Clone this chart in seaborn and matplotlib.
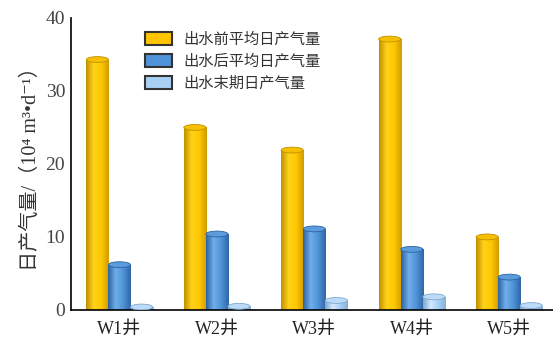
import matplotlib
matplotlib.use("Agg")
import matplotlib.pyplot as plt
import numpy as np
import pandas as pd
import seaborn as sns
from matplotlib.colors import LinearSegmentedColormap
from matplotlib.patches import Ellipse, Patch

wells = ["W1井", "W2井", "W3井", "W4井", "W5井"]
series = ["出水前平均日产气量", "出水后平均日产气量", "出水末期日产气量"]
before = [34.3, 25.0, 21.9, 37.1, 10.0]
after = [6.2, 10.4, 11.1, 8.3, 4.5]
late = [0.4, 0.5, 1.3, 1.8, 0.6]

base_colors = ["#FFC400", "#4F93D8", "#A8D0F5"]
# dark edge, highlight, mid, dark edge for the cylinder shading
shades = [
    ["#C29000", "#FFD21A", "#FFC800", "#D09C00"],
    ["#2E62A0", "#6FAEEA", "#4F93D8", "#2F67A6"],
    ["#7EA8D0", "#D2E8FF", "#A8D0F5", "#86B0D8"],
]
caps = ["#F5C000", "#5A9CDD", "#BCDBF8"]

df = pd.DataFrame({
    "well": wells * 3,
    "series": [s for s in series for _ in wells],
    "value": before + after + late,
})

sns.set_style("white")
plt.rcParams["font.family"] = ["Liberation Serif", "Noto Sans CJK SC", "DejaVu Serif"]

fig = plt.figure(figsize=(5.53, 3.38), dpi=100)
ax = fig.add_axes([0.128, 0.083, 0.872, 0.864])

sns.barplot(data=df, x="well", y="value", hue="series", hue_order=series,
            palette=base_colors, width=0.68, legend=False, ax=ax)

# turn flat bars into shaded cylinders
for i, s in enumerate(series):
    cmap = LinearSegmentedColormap.from_list(f"c{i}", shades[i])
    grad = np.linspace(0, 1, 64).reshape(1, -1)
    for patch in ax.containers[i].patches:
        x0, w, h = patch.get_x(), patch.get_width(), patch.get_height()
        patch.set_facecolor("none")
        patch.set_edgecolor("none")
        im = ax.imshow(grad, cmap=cmap, extent=[x0, x0 + w, 0, h],
                       aspect="auto", origin="lower", zorder=2)
        im.set_clip_path(patch)
        ax.add_patch(Ellipse((x0 + w / 2, h), w, 0.8, facecolor=caps[i],
                             edgecolor=shades[i][0], linewidth=0.6, zorder=3))

ax.set_xlim(-0.5, 4.45)
ax.set_ylim(0, 40)
ax.set_yticks([0, 10, 20, 30, 40])
ax.set_xticks(range(5))
ax.set_xticks([0.5, 1.5, 2.5, 3.5], minor=True)
ax.tick_params(axis="x", which="major", length=0, labelsize=13, colors="#222", pad=8)
ax.tick_params(axis="x", which="minor", direction="in", length=5, width=1.2, color="black")
ax.tick_params(axis="y", direction="in", length=6, width=1.2, labelsize=14,
               labelcolor="#444", color="black", pad=4)
ax.set_xlabel("")
ax.set_ylabel("日产气量/（10⁴ m³•d⁻¹）", fontsize=14.5, color="#333", labelpad=3)

for side in ["top", "right"]:
    ax.spines[side].set_visible(False)
for side in ["left", "bottom"]:
    ax.spines[side].set_color("black")
    ax.spines[side].set_linewidth(1.2)

handles = [Patch(facecolor=c, edgecolor="#333", linewidth=1.5) for c in base_colors]
ax.legend(handles, series, loc="upper left", bbox_to_anchor=(0.125, 1.0),
          frameon=False, fontsize=11, handlelength=1.8, handleheight=1.0,
          labelspacing=0.45, handletextpad=0.7, labelcolor="#333")

fig.savefig("out.png", dpi=100)
